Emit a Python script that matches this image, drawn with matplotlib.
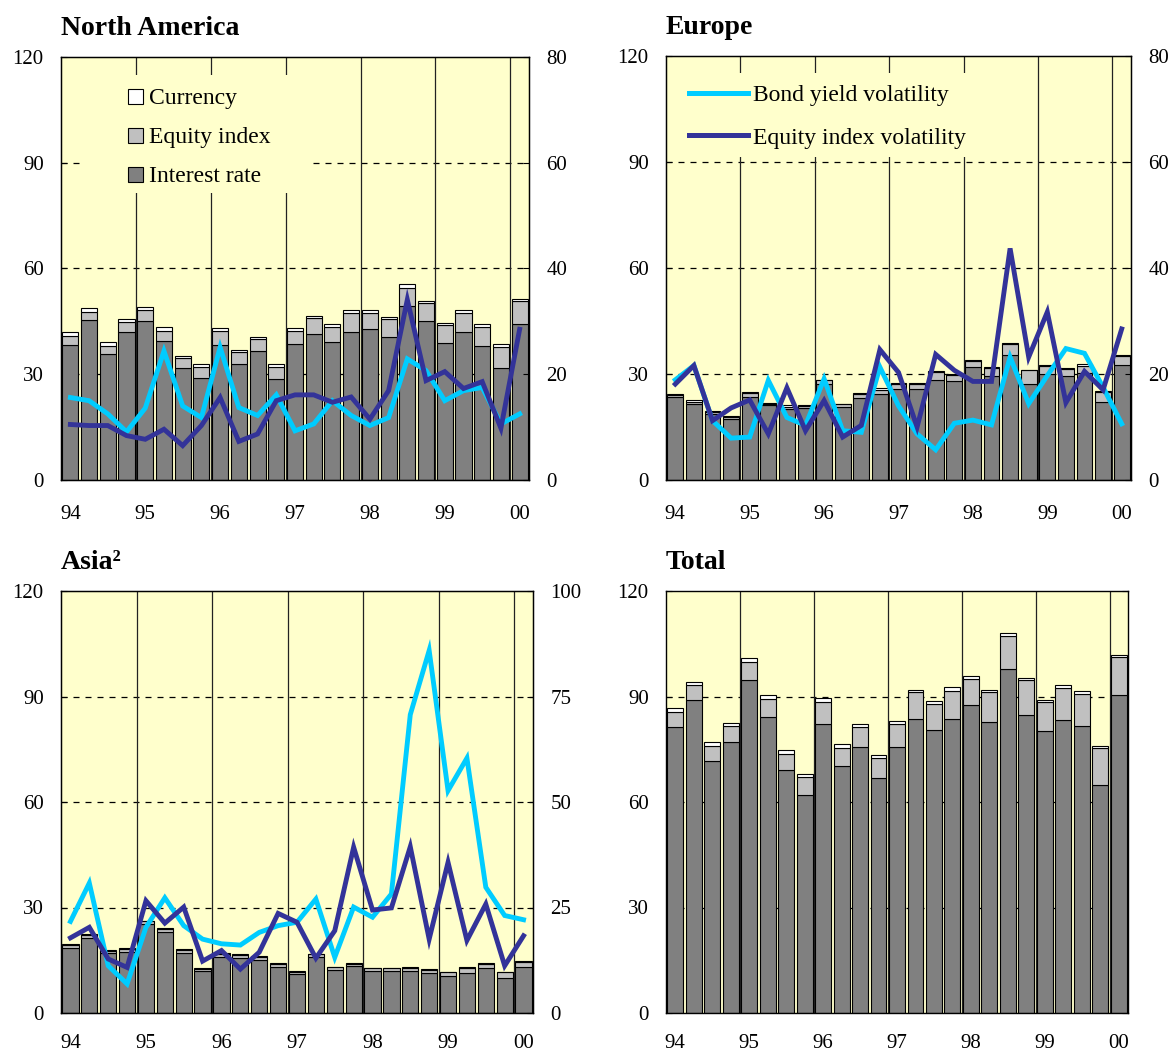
import matplotlib
matplotlib.use('Agg')
import matplotlib.pyplot as plt
from matplotlib.patches import Patch, Rectangle
from matplotlib.lines import Line2D

plt.rcParams['font.family'] = ['Liberation Serif', 'DejaVu Serif']

# ---------------- data ----------------
quarters = list(range(25))           # 1994 Q1 ... 2000 Q1
year_labels = ['94', '95', '96', '97', '98', '99', '00']

na_interest = [38.4, 45.4, 35.7, 41.9, 45.2, 39.5, 31.8, 28.9, 38.3, 32.9, 36.5, 28.6, 38.5,
               41.3, 39.2, 42.0, 42.9, 40.5, 49.3, 45.1, 38.8, 41.9, 37.9, 31.9, 44.3]
na_equity = [2.5, 2.3, 2.4, 2.9, 2.9, 2.9, 2.7, 3.2, 3.9, 3.3, 3.4, 3.4, 3.7,
             4.6, 4.2, 5.4, 4.5, 5.1, 5.3, 5.1, 5.2, 5.6, 5.5, 5.9, 6.4]
na_currency = [1.0, 1.0, 1.0, 0.9, 1.1, 0.9, 0.8, 0.8, 0.8, 0.8, 0.8, 0.9, 0.8,
               0.6, 0.8, 0.8, 0.8, 0.6, 1.0, 0.7, 0.6, 0.7, 0.8, 0.8, 0.6]
na_bond_vol = [15.6, 15.0, 12.5, 9.1, 13.6, 24.4, 14.0, 11.8, 25.1, 13.7, 12.2, 16.1, 9.3,
               10.6, 15.0, 12.2, 10.3, 11.8, 22.9, 20.7, 15.0, 16.9, 17.5, 10.6, 12.5]
na_equity_vol = [10.5, 10.3, 10.3, 8.4, 7.7, 9.6, 6.5, 10.3, 15.6, 7.3, 8.7, 15.0, 16.1,
                 16.1, 14.7, 15.7, 11.5, 16.9, 34.1, 18.8, 20.5, 17.3, 18.6, 9.8, 28.5]

eu_interest = [23.4, 21.5, 18.7, 17.3, 23.6, 21.1, 20.1, 20.4, 27.2, 20.8, 23.3, 24.4, 25.8,
               25.8, 28.4, 27.9, 31.9, 29.5, 35.3, 27.2, 30.1, 29.3, 30.2, 22.2, 32.6]
eu_equity = [0.7, 0.7, 0.5, 0.5, 1.0, 0.5, 0.7, 0.6, 1.0, 0.6, 0.9, 1.1, 1.4,
             1.4, 2.1, 1.7, 1.9, 2.1, 3.1, 3.8, 2.1, 2.0, 2.2, 2.8, 2.5]
eu_currency = [0.3, 0.3, 0.2, 0.2, 0.4, 0.2, 0.3, 0.3, 0.2, 0.2, 0.3, 0.4, 0.3,
               0.3, 0.3, 0.3, 0.3, 0.3, 0.3, 0.2, 0.3, 0.3, 0.3, 0.2, 0.2]
eu_bond_vol = [18.9, 21.6, 11.2, 7.9, 8.1, 18.8, 11.8, 10.3, 19.1, 9.3, 9.0, 21.3, 14.0,
               8.7, 5.7, 10.7, 11.3, 10.4, 23.2, 14.4, 19.7, 24.8, 23.9, 17.5, 10.6]
eu_equity_vol = [18.1, 21.6, 11.2, 13.6, 15.1, 8.7, 17.4, 9.3, 15.0, 8.1, 10.3, 24.6, 20.3,
                 10.0, 23.7, 20.7, 18.6, 18.6, 43.7, 23.2, 31.7, 14.6, 20.5, 17.0, 28.5]

as_interest = [18.5, 21.3, 17.0, 17.3, 25.3, 23.0, 17.0, 11.9, 16.0, 15.7, 15.1, 13.2, 11.1,
               16.0, 12.2, 13.5, 12.0, 12.0, 12.0, 11.4, 10.6, 11.4, 12.8, 10.0, 13.0]
as_equity = [0.9, 0.9, 0.6, 0.9, 0.8, 0.9, 0.9, 0.7, 0.8, 0.8, 0.8, 0.7, 0.7,
             0.7, 0.8, 0.4, 0.7, 0.7, 0.8, 0.8, 1.0, 1.4, 1.1, 1.6, 1.5]
as_currency = [0.2, 0.2, 0.2, 0.2, 0.2, 0.2, 0.2, 0.2, 0.2, 0.2, 0.2, 0.2, 0.2,
               0.2, 0.2, 0.2, 0.2, 0.2, 0.2, 0.2, 0.2, 0.2, 0.2, 0.2, 0.2]
as_bond_vol = [21.7, 30.8, 11.2, 6.9, 20.3, 27.3, 20.7, 17.5, 16.4, 16.1, 19.1, 20.7, 21.5,
               27.0, 13.2, 25.1, 22.7, 28.2, 70.7, 85.9, 52.7, 60.4, 29.8, 23.1, 22.1]
as_equity_vol = [17.8, 20.3, 12.8, 10.8, 26.6, 21.3, 25.1, 12.3, 14.8, 10.4, 14.4, 23.6, 21.5,
                 13.0, 19.5, 39.3, 24.4, 24.9, 39.4, 17.5, 35.7, 17.2, 25.8, 11.2, 18.3]

tot_interest = [81.3, 88.9, 71.8, 77.0, 94.8, 84.3, 69.0, 61.9, 82.3, 70.1, 75.6, 66.8, 75.6,
                83.5, 80.6, 83.7, 87.5, 82.8, 97.7, 84.6, 80.1, 83.2, 81.6, 64.7, 90.5]
tot_equity = [4.3, 4.3, 4.0, 4.5, 5.0, 4.9, 4.7, 5.2, 6.1, 5.3, 5.7, 5.8, 6.7,
              7.7, 7.4, 8.0, 7.6, 8.4, 9.6, 10.0, 8.2, 9.3, 9.2, 10.6, 10.6]
tot_currency = [1.2, 1.0, 1.2, 1.0, 1.2, 1.1, 1.2, 1.0, 1.2, 1.2, 1.0, 0.9, 0.7,
                0.6, 0.7, 1.0, 0.7, 0.6, 0.8, 0.7, 0.7, 0.7, 0.8, 0.6, 0.8]

# ---------------- style ----------------
BG = '#ffffcc'
C_INT = '#808080'
C_EQ = '#c0c0c0'
C_CUR = '#ffffff'
C_BOND = '#00ccff'
C_EQV = '#333399'
FS = 15
LFS = 17

W, H = 1171, 1054
fig = plt.figure(figsize=(W / 100, H / 100), dpi=100)


def rect(l, t, r, b):
    return [l / W, 1 - b / H, (r - l) / W, (b - t) / H]


def draw_panel(pos, title, interest, equity, currency, bond=None, eqv=None, rmax=None,
               xpad=18):
    ax = fig.add_axes(rect(*pos))
    ax.set_facecolor(BG)
    ax.set_xlim(-0.5, 24.5)
    ax.set_ylim(0, 120)
    ax.set_yticks([0, 30, 60, 90, 120])
    ax.set_yticklabels(['0', '30', '60', '90', '120'])
    for v in [30, 60, 90]:
        ax.axhline(v, color='black', lw=0.9, ls=(0, (4.8, 4.8)), zorder=0.5)
    for k in range(1, 7):
        ax.axvline(4 * k - 0.5, color='#222222', lw=0.9, zorder=0.6)
    ax.set_xticks([0, 4, 8, 12, 16, 20, 24])
    ax.set_xticklabels(year_labels)
    ax.tick_params(axis='x', length=0, pad=xpad, labelsize=FS)
    ax.tick_params(axis='y', direction='in', length=4, labelsize=FS, pad=12.5,
                   right=(rmax is None))
    bot2 = [a + b for a, b in zip(interest, equity)]
    kw = dict(width=0.86, edgecolor='black', linewidth=0.8, zorder=2)
    ax.bar(quarters, interest, color=C_INT, **kw)
    ax.bar(quarters, equity, bottom=interest, color=C_EQ, **kw)
    ax.bar(quarters, currency, bottom=bot2, color=C_CUR, **kw)
    for s in ax.spines.values():
        s.set_linewidth(1.0)
        s.set_zorder(5)
    ax.set_title(title, loc='left', fontsize=20, fontweight='bold', pad=16)
    ax2 = None
    if rmax is not None:
        ax2 = ax.twinx()
        ax2.set_ylim(0, rmax)
        ax2.set_yticks([rmax * f for f in (0, 0.25, 0.5, 0.75, 1.0)])
        ax2.set_yticklabels([str(int(rmax * f)) for f in (0, 0.25, 0.5, 0.75, 1.0)])
        ax2.tick_params(axis='y', direction='in', length=4, labelsize=FS, pad=12.5)
        ax2.plot(quarters, bond, color=C_BOND, lw=3.5, solid_joinstyle='miter', zorder=3)
        ax2.plot(quarters, eqv, color=C_EQV, lw=3.5, solid_joinstyle='miter', zorder=4)
    return ax, ax2


NA_POS = (61, 57, 529, 480)
EU_POS = (666, 56, 1131, 480)
AS_POS = (61, 591, 533, 1013)
TT_POS = (666, 591, 1128, 1013)

ax_na, ax_na2 = draw_panel(NA_POS, 'North America', na_interest, na_equity, na_currency,
                           na_bond_vol, na_equity_vol, 80)
ax_eu, ax_eu2 = draw_panel(EU_POS, 'Europe', eu_interest, eu_equity, eu_currency,
                           eu_bond_vol, eu_equity_vol, 80)
ax_as, ax_as2 = draw_panel(AS_POS, 'Asia²', as_interest, as_equity, as_currency,
                           as_bond_vol, as_equity_vol, 100, xpad=15)
ax_tt, _ = draw_panel(TT_POS, 'Total', tot_interest, tot_equity, tot_currency, xpad=15)


def frac(pos, x, y):
    l, t, r, b = pos
    return (x - l) / (r - l), 1 - (y - t) / (b - t)


def cover(ax, pos, x0, y0, x1, y1):
    fx0, fy1 = frac(pos, x0, y0)
    fx1, fy0 = frac(pos, x1, y1)
    ax.add_patch(Rectangle((fx0, fy0), fx1 - fx0, fy1 - fy0, transform=ax.transAxes,
                           facecolor=BG, edgecolor='none', zorder=1))


# legend background boxes hiding the grid lines
cover(ax_na, NA_POS, 85, 75, 310, 193)
cover(ax_eu, EU_POS, 678, 73, 990, 157)

bar_handles = [Patch(facecolor=C_CUR, edgecolor='black', lw=0.8),
               Patch(facecolor=C_EQ, edgecolor='black', lw=0.8),
               Patch(facecolor=C_INT, edgecolor='black', lw=0.8)]
ax_na2.legend(bar_handles, ['Currency', 'Equity index', 'Interest rate'],
              loc='upper left', bbox_to_anchor=frac(NA_POS, 119, 79), fontsize=LFS,
              frameon=False, handlelength=0.6, handleheight=0.6, handletextpad=0.25,
              labelspacing=0.76, borderpad=0.4, borderaxespad=0)

line_handles = [Line2D([], [], color=C_BOND, lw=3.6), Line2D([], [], color=C_EQV, lw=3.6)]
ax_eu2.legend(line_handles, ['Bond yield volatility', 'Equity index volatility'],
              loc='upper left', bbox_to_anchor=frac(EU_POS, 680, 75), fontsize=LFS,
              frameon=False, handlelength=2.5, handletextpad=0.2, labelspacing=0.9,
              borderpad=0.4, borderaxespad=0)

fig.savefig('out.png', dpi=100)
